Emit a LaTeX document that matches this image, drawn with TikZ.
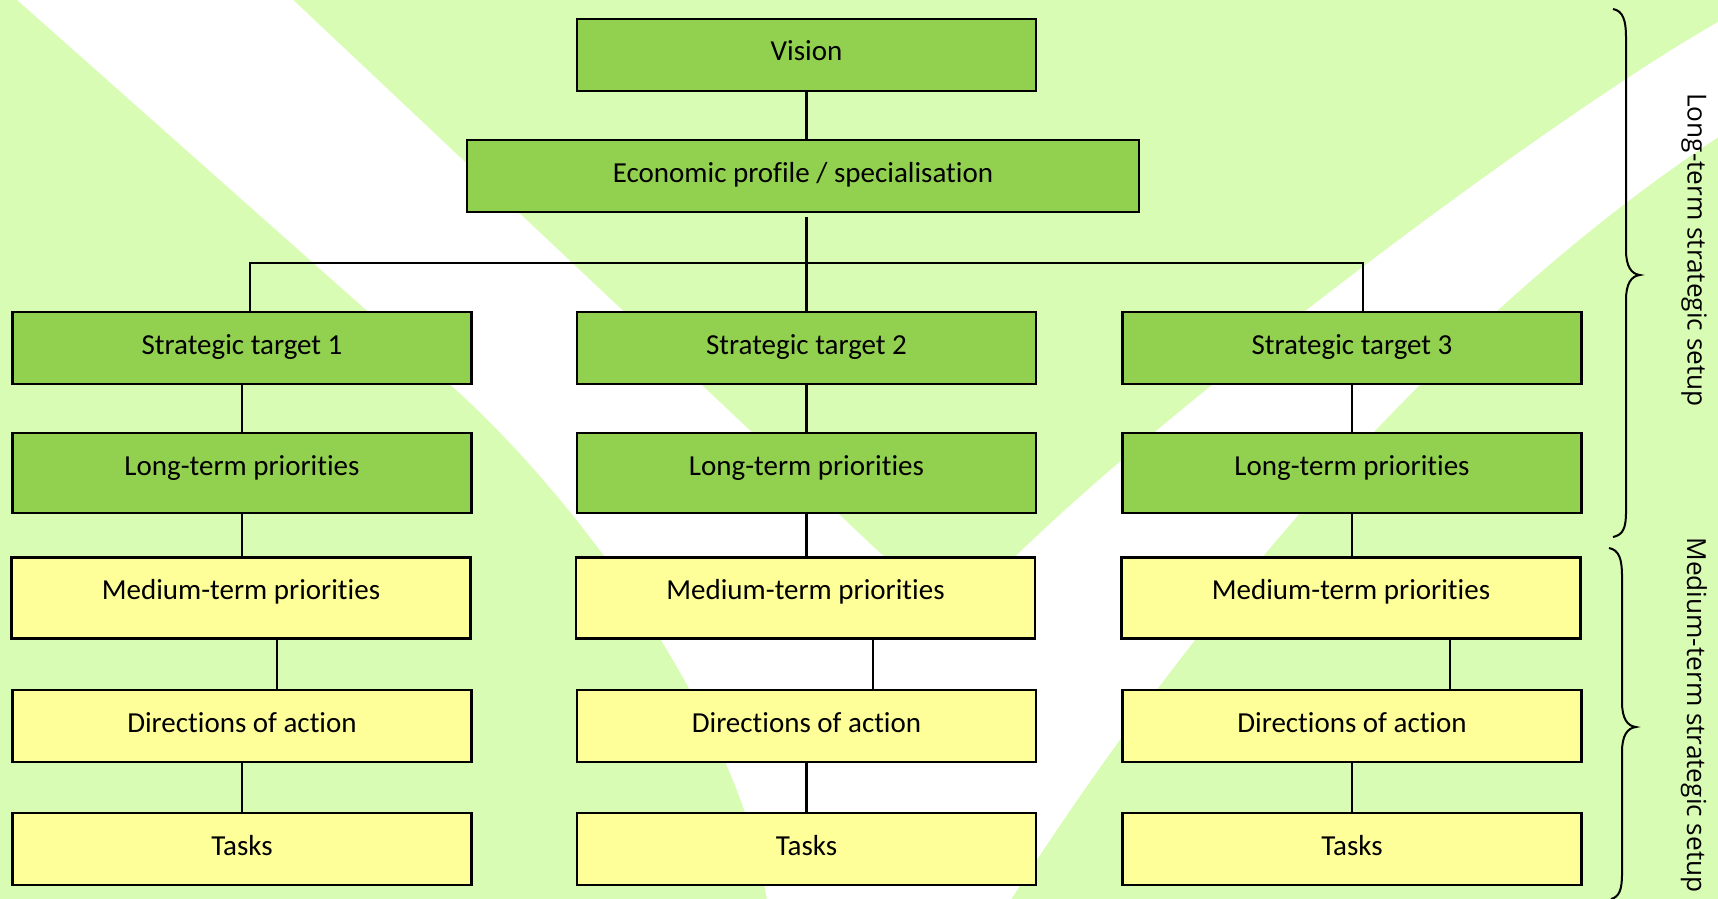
\documentclass[tikz,border=0pt]{standalone}
\usepackage{fontspec}
\setmainfont{Carlito}[Ligatures=NoCommon]
\newfontfamily\sidefont{Open Sans}
\usetikzlibrary{calc}
\definecolor{bggreen}{RGB}{217,252,180}
\definecolor{boxgreen}{RGB}{146,208,80}
\definecolor{boxyellow}{RGB}{255,255,153}
\begin{document}
\begin{tikzpicture}[x=1pt,y=-1pt,
  box/.style={draw=black, line width=2.6pt, minimum width=459pt, inner sep=0pt, outer sep=0pt,
    font=\fontsize{29}{34}\selectfont, text height=20pt},
  h72/.style={minimum height=72pt, text depth=8pt},
  h80/.style={minimum height=80pt, text depth=16pt},
  h81/.style={minimum height=81pt, text depth=17pt},
  gbox/.style={box, fill=boxgreen},
  ybox/.style={box, fill=boxyellow},
  link/.style={draw=black, line width=2.2pt},
  bracepath/.style={draw=black, line width=2pt},
  side/.style={font=\sidefont\fontsize{26.2}{30}\selectfont, rotate=-90, inner sep=0pt}
]
\useasboundingbox (0,0) rectangle (1718,899);
% background
\fill[bggreen] (0,0) rectangle (1718,899);
\fill[white] (15,-2) -- (453,387) .. controls (600,520) and (745,740) .. (767,901)
  -- (1010,901) .. controls (1190,620) and (1440,320) .. (1720,136)
  -- (1720,21) .. controls (1542,121) and (1086,465) .. (960,615)
  -- (880,553) -- (291,-2) -- cycle;

% boxes
\node[gbox,h72] (vision) at (806.5,55) {Vision};
\node[gbox,h72,minimum width=672pt] (econ) at (803,176) {Economic profile / specialisation};

\node[gbox,h72] (st1) at (242,348) {Strategic target 1};
\node[gbox,h72] (st2) at (806.5,348) {Strategic target 2};
\node[gbox,h72] (st3) at (1352,348) {Strategic target 3};

\node[gbox,h80] (lt1) at (242,473) {Long-term priorities};
\node[gbox,h80] (lt2) at (806.5,473) {Long-term priorities};
\node[gbox,h80] (lt3) at (1352,473) {Long-term priorities};

\node[ybox,h81] (mt1) at (241,598) {Medium-term priorities};
\node[ybox,h81] (mt2) at (805.5,598) {Medium-term priorities};
\node[ybox,h81] (mt3) at (1351,598) {Medium-term priorities};

\node[ybox,h72] (da1) at (242,726) {Directions of action};
\node[ybox,h72] (da2) at (806.5,726) {Directions of action};
\node[ybox,h72] (da3) at (1352,726) {Directions of action};

\node[ybox,h72] (tk1) at (242,849) {Tasks};
\node[ybox,h72] (tk2) at (806.5,849) {Tasks};
\node[ybox,h72] (tk3) at (1352,849) {Tasks};

% connectors
\draw[link] (vision.south) -- (vision.south |- econ.north);
\coordinate (estem) at ($(st2.north |- econ.south)+(0,5)$);
\draw[link] (estem) -- (st2.north);
\coordinate (busL) at (250,263);
\coordinate (busR) at (1363,263);
\draw[link] (busL |- st1.north) -- (busL) -- (busR) -- (busR |- st3.north);
\foreach \i in {1,2,3}{
  \draw[link] (st\i.south) -- (lt\i.north);
  \draw[link] (lt\i.south) -- (lt\i.south |- mt\i.north);
  \draw[link] (da\i.south) -- (tk\i.north);
}
\coordinate (j1) at ($(mt1.south)+(36,0)$);
\coordinate (j2) at ($(mt2.south)+(67.5,0)$);
\coordinate (j3) at ($(mt3.south)+(99,0)$);
\foreach \i in {1,2,3}{
  \draw[link] (j\i) -- (j\i |- da\i.north);
}

% braces
\coordinate (b1top) at (1613,9);
\coordinate (b1tip) at (1640,275);
\coordinate (b1bot) at (1613,537);
\draw[bracepath] (b1top) .. controls (1623,11) and (1626,20) .. (1626,38)
  -- (1626,250) .. controls (1626,266) and (1631,274) .. (b1tip)
  .. controls (1631,276) and (1626,284) .. (1626,300)
  -- (1626,512) .. controls (1626,528) and (1623,535) .. (b1bot);
\coordinate (b2top) at (1609,548);
\coordinate (b2tip) at (1636,727);
\coordinate (b2bot) at (1611,899);
\draw[bracepath] (b2top) .. controls (1619,550) and (1622,559) .. (1622,576)
  -- (1622,702) .. controls (1622,718) and (1627,726) .. (b2tip)
  .. controls (1627,728) and (1622,736) .. (1622,752)
  -- (1622,874) .. controls (1622,890) and (1619,897) .. (b2bot);

\node[side] (lts) at (1694,250) {Long-term strategic setup};
\node[side] (mts) at (1694,715) {Medium-term strategic setup};
\end{tikzpicture}
\end{document}
